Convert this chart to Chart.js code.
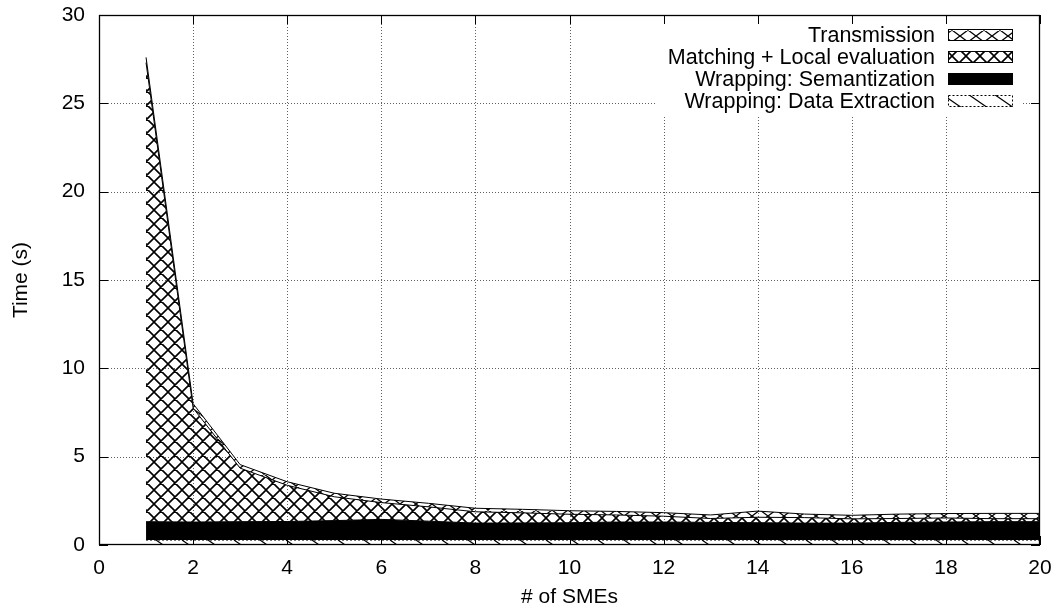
<!DOCTYPE html>
<html>
<head>
<meta charset="utf-8">
<script src="https://cdn.jsdelivr.net/npm/chart.js@4.4.1/dist/chart.umd.min.js"></script>
<style>
html,body{margin:0;padding:0;background:#fff;}
#wrap{width:1058px;height:611px;}
</style>
</head>
<body>
<div id="wrap"><canvas id="c" width="1058" height="611"></canvas></div>
<script>
// ---- data ----
const smes = [1,2,3,4,5,6,7,8,9,10,11,12,13,14,15,16,17,18,19,20];
const dataExtraction = [0.28,0.28,0.28,0.28,0.28,0.28,0.28,0.28,0.28,0.28,0.28,0.28,0.28,0.28,0.28,0.28,0.28,0.28,0.28,0.28];
const semantization = [1.04,1.02,1.04,1.05,1.10,1.17,1.07,0.96,0.97,0.98,1.02,1.02,1.00,0.98,0.96,0.96,1.00,1.02,1.04,1.04];
const matchingLocal = [25.98,6.45,3.03,2.05,1.35,0.95,0.81,0.64,0.57,0.48,0.40,0.33,0.22,0.31,0.31,0.24,0.22,0.23,0.17,0.17];
const transmission = [0.30,0.25,0.20,0.20,0.20,0.20,0.20,0.20,0.20,0.20,0.20,0.20,0.20,0.35,0.20,0.20,0.25,0.25,0.30,0.30];
const xTicks = [0,2,4,6,8,10,12,14,16,18,20];
const yTicks = [0,5,10,15,20,25,30];
const labels = ["Transmission","Matching + Local evaluation","Wrapping: Semantization","Wrapping: Data Extraction"];

const FAMILY = '"Liberation Sans", Arial, sans-serif';
const FSIZE = 21;
const FONT = FSIZE + 'px ' + FAMILY;
const LFONT = '21.5px ' + FAMILY;

const canvas = document.getElementById('c');
const ctx = canvas.getContext('2d');

function crossPattern(w, h, lw) {
  const c = document.createElement('canvas'); c.width = w; c.height = h;
  const g = c.getContext('2d'); g.strokeStyle = '#000'; g.lineWidth = lw;
  g.beginPath();
  for (let k = -1; k <= 1; k++) {
    g.moveTo(k*w, 0); g.lineTo(k*w + w, h);
    g.moveTo(k*w, h); g.lineTo(k*w + w, 0);
  }
  g.stroke();
  return ctx.createPattern(c, 'repeat');
}
function diagPattern(w, h, lw) {
  const c = document.createElement('canvas'); c.width = w; c.height = h;
  const g = c.getContext('2d'); g.strokeStyle = '#000'; g.lineWidth = lw;
  g.beginPath();
  for (let k = -1; k <= 1; k++) { g.moveTo(k*w, 0); g.lineTo(k*w + w, h); }
  g.stroke();
  return ctx.createPattern(c, 'repeat');
}
const patTrans = crossPattern(16, 12, 1.3);
const patMatch = crossPattern(14, 14, 1.6);
const patExtr = diagPattern(26, 18, 1.2);

const styles = [
  {fill: patTrans, border: '#000', dash: []},
  {fill: patMatch, border: '#000', dash: []},
  {fill: '#000', border: '#000', dash: []},
  {fill: patExtr, border: '#000', dash: [2,2]}
];

function pts(arr){ return smes.map((x,i)=>({x:x, y:arr[i]})); }

const gp = {
  id: 'gp',
  beforeDraw(chart) {
    const a = chart.chartArea, c = chart.ctx;
    const xs = chart.scales.x, ys = chart.scales.y;
    c.save();
    c.strokeStyle = '#606060'; c.lineWidth = 1; c.setLineDash([1,2]);
    xTicks.forEach(v => {
      if (v === xs.min || v === xs.max) return;
      const px = Math.round(xs.getPixelForValue(v)) + 0.5;
      c.beginPath(); c.moveTo(px, a.top); c.lineTo(px, a.bottom); c.stroke();
    });
    yTicks.forEach(v => {
      if (v === ys.min || v === ys.max) return;
      const py = Math.round(ys.getPixelForValue(v)) + 0.5;
      c.beginPath(); c.moveTo(a.left, py); c.lineTo(a.right, py); c.stroke();
    });
    c.restore();
  },
  afterDraw(chart) {
    const a = chart.chartArea, c = chart.ctx;
    const xs = chart.scales.x, ys = chart.scales.y;
    c.save();
    // key
    c.font = LFONT;
    const textRight = 935, boxL = 948, boxR = 1013, rowY0 = 35, rowH = 22;
    let maxW = 0; labels.forEach(l => maxW = Math.max(maxW, c.measureText(l).width));
    c.fillStyle = '#fff';
    const kl = textRight - maxW - 12;
    c.fillRect(kl, rowY0 - 12, boxR + 8 - kl, rowH*labels.length + 4);
    labels.forEach((l, i) => {
      const y = rowY0 + i*rowH;
      c.fillStyle = '#000'; c.textAlign = 'right'; c.textBaseline = 'middle';
      c.fillText(l, textRight, y + 1);
      const s = styles[i];
      c.fillStyle = s.fill;
      c.fillRect(boxL, y - 6, boxR - boxL, 12);
      c.strokeStyle = s.border; c.lineWidth = 1; c.setLineDash(s.dash);
      c.strokeRect(boxL + 0.5, y - 5.5, boxR - boxL - 1, 11);
      c.setLineDash([]);
    });
    // border
    c.strokeStyle = '#000'; c.lineWidth = 1.3; c.setLineDash([]);
    c.strokeRect(a.left + 0.5, a.top + 0.5, a.right - a.left - 1, a.bottom - a.top - 1);
    // ticks (inward, mirrored)
    c.lineWidth = 1;
    const tl = 9;
    xTicks.forEach(v => {
      const px = Math.round(xs.getPixelForValue(v)) + 0.5;
      c.beginPath(); c.moveTo(px, a.bottom); c.lineTo(px, a.bottom - tl);
      c.moveTo(px, a.top); c.lineTo(px, a.top + tl); c.stroke();
    });
    yTicks.forEach(v => {
      const py = Math.round(ys.getPixelForValue(v)) + 0.5;
      c.beginPath(); c.moveTo(a.left, py); c.lineTo(a.left + tl, py);
      c.moveTo(a.right, py); c.lineTo(a.right - tl, py); c.stroke();
    });
    // axis titles
    c.fillStyle = '#000'; c.font = FONT; c.textAlign = 'center'; c.textBaseline = 'middle';
    c.fillText('# of SMEs', (a.left + a.right)/2, 597);
    c.translate(21, (a.top + a.bottom)/2); c.rotate(-Math.PI/2);
    c.fillText('Time (s)', 0, 0);
    c.restore();
  }
};

new Chart(canvas, {
  type: 'line',
  data: {
    datasets: [
      {label: labels[3], data: pts(dataExtraction), fill: 'origin', backgroundColor: patExtr, borderColor: '#000', borderWidth: 1, borderDash: [2,2], pointRadius: 0, tension: 0},
      {label: labels[2], data: pts(semantization), fill: '-1', backgroundColor: '#000', borderColor: '#000', borderWidth: 1, pointRadius: 0, tension: 0},
      {label: labels[1], data: pts(matchingLocal), fill: '-1', backgroundColor: patMatch, borderColor: '#000', borderWidth: 1, pointRadius: 0, tension: 0},
      {label: labels[0], data: pts(transmission), fill: '-1', backgroundColor: patTrans, borderColor: '#000', borderWidth: 1, pointRadius: 0, tension: 0}
    ]
  },
  options: {
    responsive: false,
    animation: false,
    devicePixelRatio: 1,
    layout: {padding: {top: 15, right: 18, left: 0, bottom: 0}},
    plugins: {legend: {display: false}, tooltip: {enabled: false}},
    scales: {
      x: {
        type: 'linear', min: 0, max: 20,
        grid: {display: false, drawTicks: false},
        border: {display: false},
        ticks: {stepSize: 2, font: {family: FAMILY, size: FSIZE}, color: '#000', padding: 11, maxRotation: 0, autoSkip: false},
        afterFit(s){ s.height = 66; s.paddingLeft = 0; s.paddingRight = 0; }
      },
      y: {
        stacked: true, min: 0, max: 30,
        grid: {display: false, drawTicks: false},
        border: {display: false},
        ticks: {stepSize: 5, font: {family: FAMILY, size: FSIZE}, color: '#000', padding: 14},
        afterFit(s){ s.width = 99; s.paddingTop = 0; s.paddingBottom = 0; }
      }
    }
  },
  plugins: [gp]
});
</script>
</body>
</html>
